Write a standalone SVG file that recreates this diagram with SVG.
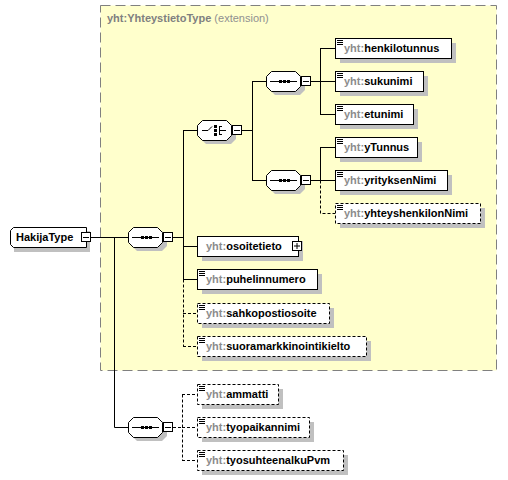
<svg xmlns="http://www.w3.org/2000/svg" width="508" height="480" viewBox="0 0 508 480">
<style>
text{font-family:"Liberation Sans",Arial,sans-serif;font-size:11px;font-weight:bold;fill:#000}
.ns{fill:#8c8c8c}
.ttl{fill:#808080}
.ttl2{fill:#909090;font-weight:normal}
.sh{fill:#c0c0c0;stroke:none}
.box{fill:#fff;stroke:#000;stroke-width:1}
.dbox{fill:#fff;stroke:#000;stroke-width:1;stroke-dasharray:3,2}
.ico{stroke:#000;stroke-width:1;fill:none}
.ln{stroke:#000;stroke-width:1;fill:none}
.dl{stroke:#000;stroke-width:1;fill:none;stroke-dasharray:3,2}
.btn{fill:#fff;stroke:#000;stroke-width:1}
.sq{fill:#000}
</style>
<g id="ext">
<rect x="100.5" y="5.5" width="396" height="365" fill="#ffffcc" stroke="#808080" stroke-width="1" stroke-dasharray="10,5"/>
<text x="107" y="22"><tspan class="ttl">yht:YhteystietoType</tspan><tspan class="ttl2"> (extension)</tspan></text>
</g>
<g id="connectors">
<path class="ln" d="M91 237.5H128M114.5 237.5V427.5H128"/>
<path class="ln" d="M173 237.5H183.5M183.5 130V279.5M183 130.5H197M183 246.5H197M183 279.5H197"/>
<path class="dl" d="M183.5 279.5V346.5M183 313.5H197M183 346.5H197"/>
<path class="ln" d="M242 130.5H252.5M252.5 81V180.5M252 81.5H266M252 180.5H266"/>
<path class="ln" d="M311 81.5H320.5M320.5 48V114.5M320 48.5H335M320 81.5H335M320 114.5H335"/>
<path class="ln" d="M311 180.5H320.5M320.5 147V180.5M320 147.5H335M320 180.5H335"/>
<path class="dl" d="M320.5 180.5V213.5H335"/>
<path class="dl" d="M173 427.5H182.5M182.5 394.5V460.5M182 394.5H197M182 427.5H197M182 460.5H197"/>
</g>
<g id="n-HakijaType">
<path class="sh" d="M17 231H90V252H14V234Z"/>
<path class="box" d="M13.5 227.5H86.5V247.5H13.5L10.5 244.5V230.5Z"/>
<rect class="btn" x="81.5" y="232.5" width="9" height="9"/>
<path class="ln" d="M83 237.5H89"/>
<text x="16" y="241">HakijaType</text>
</g>
<g id="n-seq-main">
<path class="sh" d="M137 231H162L167 236V246L162 251H137L132 246V236Z"/>
<path class="box" d="M133.5 227.5H157.5L162.5 232.5V242.5L157.5 247.5H133.5L128.5 242.5V232.5Z"/>
<path class="ln" d="M132 237.5H159"/>
<rect class="sq" x="141" y="236" width="3" height="3"/><rect class="sq" x="145" y="236" width="3" height="3"/><rect class="sq" x="149" y="236" width="3" height="3"/>
<rect class="btn" x="163.5" y="232.5" width="9" height="9"/>
<path class="ln" d="M165 237.5H171"/>
</g>
<g id="n-choice">
<path class="sh" d="M206 124H231L236 129V139L231 144H206L201 139V129Z"/>
<path class="box" d="M202.5 120.5H226.5L231.5 125.5V135.5L226.5 140.5H202.5L197.5 135.5V125.5Z"/>
<path class="ln" d="M202 130.5H208L212 126.5M219.5 126V135M219 126.5H222M219 130.5H226M219 134.5H222"/>
<rect class="sq" x="214" y="125" width="3" height="3"/><rect class="sq" x="214" y="129" width="3" height="3"/><rect class="sq" x="214" y="133" width="3" height="3"/>
<rect class="btn" x="232.5" y="125.5" width="9" height="9"/>
<path class="ln" d="M234 130.5H240"/>
</g>
<g id="n-seq-person">
<path class="sh" d="M275 75H300L305 80V90L300 95H275L270 90V80Z"/>
<path class="box" d="M271.5 71.5H295.5L300.5 76.5V86.5L295.5 91.5H271.5L266.5 86.5V76.5Z"/>
<path class="ln" d="M270 81.5H297"/>
<rect class="sq" x="279" y="80" width="3" height="3"/><rect class="sq" x="283" y="80" width="3" height="3"/><rect class="sq" x="287" y="80" width="3" height="3"/>
<rect class="btn" x="301.5" y="76.5" width="9" height="9"/>
<path class="ln" d="M303 81.5H309"/>
</g>
<g id="n-seq-company">
<path class="sh" d="M275 174H300L305 179V189L300 194H275L270 189V179Z"/>
<path class="box" d="M271.5 170.5H295.5L300.5 175.5V185.5L295.5 190.5H271.5L266.5 185.5V175.5Z"/>
<path class="ln" d="M270 180.5H297"/>
<rect class="sq" x="279" y="179" width="3" height="3"/><rect class="sq" x="283" y="179" width="3" height="3"/><rect class="sq" x="287" y="179" width="3" height="3"/>
<rect class="btn" x="301.5" y="175.5" width="9" height="9"/>
<path class="ln" d="M303 180.5H309"/>
</g>
<g id="n-seq-work">
<path class="sh" d="M137 421H162L167 426V436L162 441H137L132 436V426Z"/>
<path class="box" d="M133.5 417.5H157.5L162.5 422.5V432.5L157.5 437.5H133.5L128.5 432.5V422.5Z"/>
<path class="ln" d="M132 427.5H159"/>
<rect class="sq" x="141" y="426" width="3" height="3"/><rect class="sq" x="145" y="426" width="3" height="3"/><rect class="sq" x="149" y="426" width="3" height="3"/>
<rect class="btn" x="163.5" y="422.5" width="9" height="9"/>
<path class="ln" d="M165 427.5H171"/>
</g>
<g id="n-henkilotunnus">
<rect class="sh" x="340" y="43" width="116" height="20"/>
<rect class="box" x="335.5" y="38.5" width="116" height="20"/>
<path class="ico" d="M337 40.5h6M337 42.5h6M337 44.5h6"/>
<text x="344" y="52"><tspan class="ns">yht:</tspan>henkilotunnus</text>
</g>
<g id="n-sukunimi">
<rect class="sh" x="340" y="76" width="88" height="20"/>
<rect class="box" x="335.5" y="71.5" width="88" height="20"/>
<path class="ico" d="M337 73.5h6M337 75.5h6M337 77.5h6"/>
<text x="344" y="85"><tspan class="ns">yht:</tspan>sukunimi</text>
</g>
<g id="n-etunimi">
<rect class="sh" x="340" y="109" width="78" height="20"/>
<rect class="box" x="335.5" y="104.5" width="78" height="20"/>
<path class="ico" d="M337 106.5h6M337 108.5h6M337 110.5h6"/>
<text x="344" y="118"><tspan class="ns">yht:</tspan>etunimi</text>
</g>
<g id="n-yTunnus">
<rect class="sh" x="340" y="142" width="82" height="20"/>
<rect class="box" x="335.5" y="137.5" width="82" height="20"/>
<path class="ico" d="M337 139.5h6M337 141.5h6M337 143.5h6"/>
<text x="344" y="151"><tspan class="ns">yht:</tspan>yTunnus</text>
</g>
<g id="n-yrityksenNimi">
<rect class="sh" x="340" y="175" width="112" height="20"/>
<rect class="box" x="335.5" y="170.5" width="112" height="20"/>
<path class="ico" d="M337 172.5h6M337 174.5h6M337 176.5h6"/>
<text x="344" y="184"><tspan class="ns">yht:</tspan>yrityksenNimi</text>
</g>
<g id="n-yhteyshenkilonNimi">
<rect class="sh" x="340" y="208" width="145" height="20"/>
<rect class="dbox" x="335.5" y="203.5" width="145" height="20"/>
<path class="ico" d="M337 205.5h6M337 207.5h6M337 209.5h6"/>
<text x="344" y="217"><tspan class="ns">yht:</tspan>yhteyshenkilonNimi</text>
</g>
<g id="n-osoitetieto">
<rect class="sh" x="202" y="241" width="101" height="20"/>
<rect class="box" x="197.5" y="236.5" width="101" height="20"/>
<text x="206" y="250"><tspan class="ns">yht:</tspan>osoitetieto</text>
<rect class="btn" x="292.5" y="241.5" width="9" height="9"/>
<path class="ln" d="M294 246h6M297 243v6"/>
</g>
<g id="n-puhelinnumero">
<rect class="sh" x="202" y="274" width="120" height="20"/>
<rect class="box" x="197.5" y="269.5" width="120" height="20"/>
<path class="ico" d="M199 271.5h6M199 273.5h6M199 275.5h6"/>
<text x="206" y="283"><tspan class="ns">yht:</tspan>puhelinnumero</text>
</g>
<g id="n-sahkopostiosoite">
<rect class="sh" x="202" y="308" width="132" height="20"/>
<rect class="dbox" x="197.5" y="303.5" width="132" height="20"/>
<path class="ico" d="M199 305.5h6M199 307.5h6M199 309.5h6"/>
<text x="206" y="317"><tspan class="ns">yht:</tspan>sahkopostiosoite</text>
</g>
<g id="n-suoramarkkinointikielto">
<rect class="sh" x="202" y="341" width="169" height="20"/>
<rect class="dbox" x="197.5" y="336.5" width="169" height="20"/>
<path class="ico" d="M199 338.5h6M199 340.5h6M199 342.5h6"/>
<text x="206" y="350"><tspan class="ns">yht:</tspan>suoramarkkinointikielto</text>
</g>
<g id="n-ammatti">
<rect class="sh" x="202" y="389" width="81" height="20"/>
<rect class="dbox" x="197.5" y="384.5" width="81" height="20"/>
<path class="ico" d="M199 386.5h6M199 388.5h6M199 390.5h6"/>
<text x="206" y="398"><tspan class="ns">yht:</tspan>ammatti</text>
</g>
<g id="n-tyopaikannimi">
<rect class="sh" x="202" y="422" width="112" height="20"/>
<rect class="dbox" x="197.5" y="417.5" width="112" height="20"/>
<path class="ico" d="M199 419.5h6M199 421.5h6M199 423.5h6"/>
<text x="206" y="431"><tspan class="ns">yht:</tspan>tyopaikannimi</text>
</g>
<g id="n-tyosuhteenalkuPvm">
<rect class="sh" x="202" y="455" width="146" height="20"/>
<rect class="dbox" x="197.5" y="450.5" width="146" height="20"/>
<path class="ico" d="M199 452.5h6M199 454.5h6M199 456.5h6"/>
<text x="206" y="464"><tspan class="ns">yht:</tspan>tyosuhteenalkuPvm</text>
</g>
</svg>
